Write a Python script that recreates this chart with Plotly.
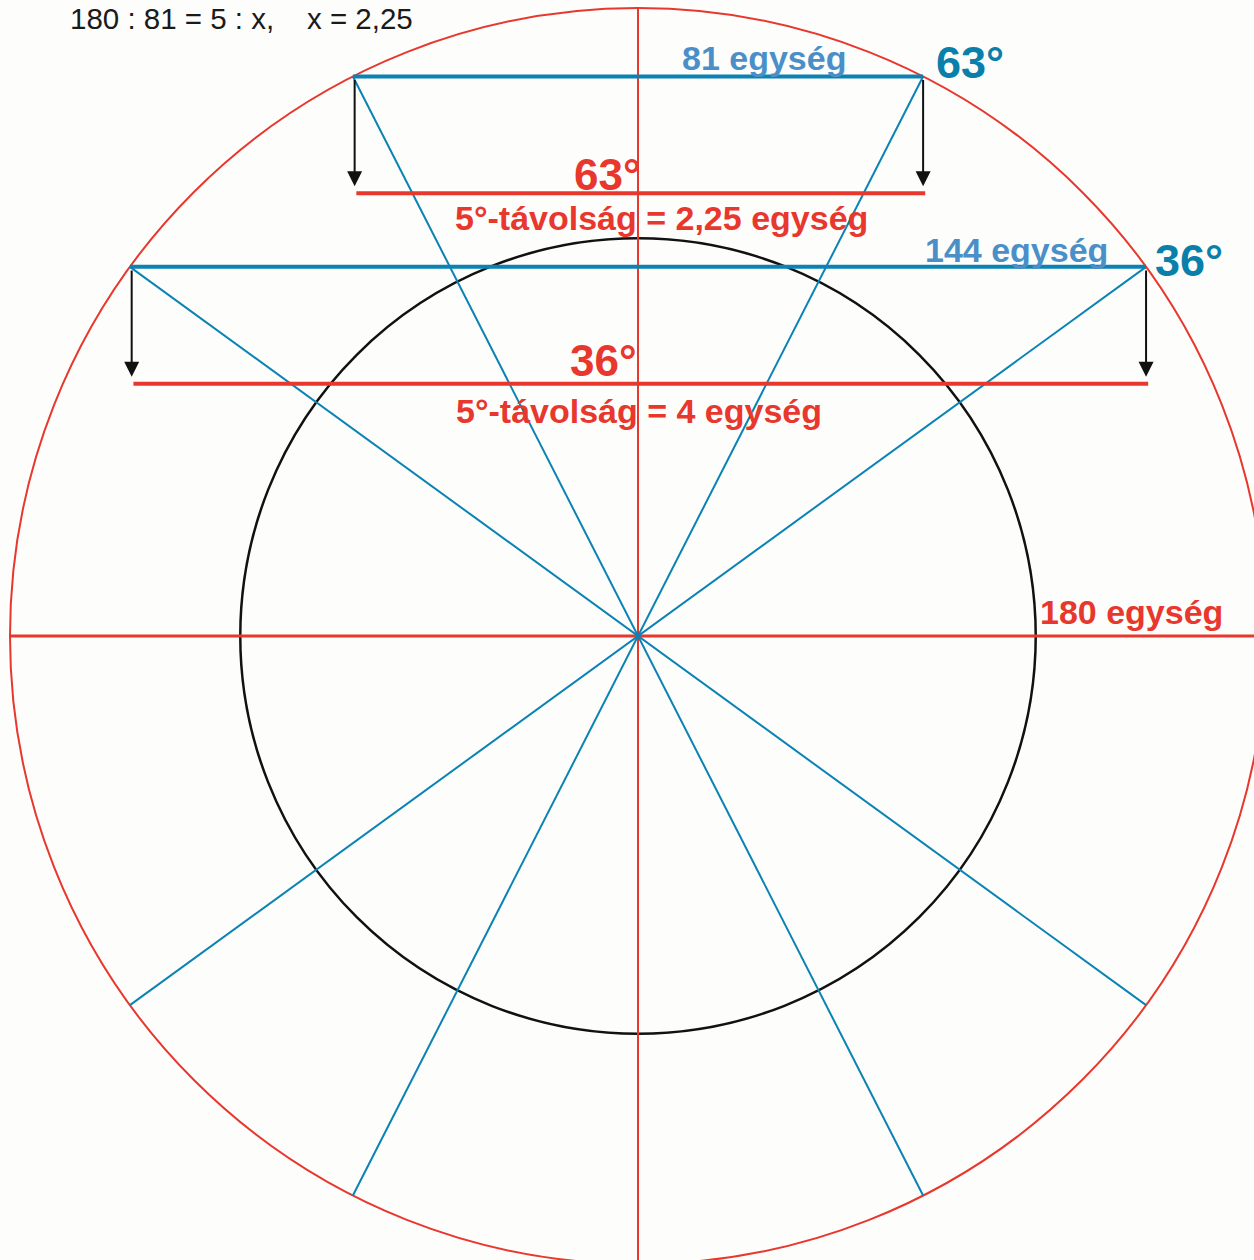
import numpy as np
import plotly.graph_objects as go

# ---- data ----
angles_deg = [63, 36]                     # chord angles
chord_labels = ["81 egység", "144 egység"]
angle_labels = ["63°", "36°"]
distance_labels = ["5°-távolság = 2,25 egység", "5°-távolság = 4 egység"]
outer_radius = 180
inner_radius = 114
drop = 33.5                               # distance of red ruler below chord
ratio_text = "180 : 81 = 5 : x,\u00a0\u00a0\u00a0\u00a0x = 2,25"
radius_label = "180 egység"

# ---- styling ----
RED = "#e8372c"
BLUE = "#0a83b4"
LBLUE = "#4a8fc7"
TEAL = "#0a7fa9"
BG = "#fdfdfc"
W, H = 1254, 1260
CX, CY = 638, 636          # pixel position of centre
S = 628 / outer_radius     # pixels per unit

def to_data(px, py):
    return (px - CX) / S, (CY - py) / S

R = outer_radius
fig = go.Figure()

# axes lines (red cross)
fig.add_trace(go.Scatter(x=[-R, R * 1.2], y=[0, 0], mode="lines",
                         line=dict(color=RED, width=3), hoverinfo="skip"))
fig.add_trace(go.Scatter(x=[0, 0], y=[-R * 1.2, R], mode="lines",
                         line=dict(color=RED, width=2), hoverinfo="skip"))

# diagonals through centre
for a in angles_deg:
    for ang in (a, 180 - a):
        t = np.deg2rad(ang)
        fig.add_trace(go.Scatter(x=[R * np.cos(t), -R * np.cos(t)],
                                 y=[R * np.sin(t), -R * np.sin(t)], mode="lines",
                                 line=dict(color=BLUE, width=2), hoverinfo="skip"))

annotations = []
for a, cl, al, dl in zip(angles_deg, chord_labels, angle_labels, distance_labels):
    t = np.deg2rad(a)
    hx = R * np.cos(t)
    y = R * np.sin(t)
    # chord
    fig.add_trace(go.Scatter(x=[-hx, hx], y=[y, y], mode="lines",
                             line=dict(color=BLUE, width=4), hoverinfo="skip"))
    # red ruler
    fig.add_trace(go.Scatter(x=[-hx + 1, hx + 0.6], y=[y - drop, y - drop], mode="lines",
                             line=dict(color=RED, width=4), hoverinfo="skip"))
    # arrows
    for sx in (-hx + 0.5, hx):
        annotations.append(dict(x=sx, y=y - drop + 2.0, ax=sx, ay=y - 0.6,
                                xref="x", yref="y", axref="x", ayref="y",
                                text="", showarrow=True, arrowhead=2, arrowsize=1.5,
                                arrowwidth=2, arrowcolor="#111111"))

# circles
shapes = [
    dict(type="circle", xref="x", yref="y", x0=-R, y0=-R, x1=R, y1=R,
         line=dict(color=RED, width=2), layer="below"),
    dict(type="circle", xref="x", yref="y", x0=-inner_radius, y0=-inner_radius,
         x1=inner_radius, y1=inner_radius, line=dict(color="#111111", width=2.5),
         layer="below"),
]

def label(text, px, py, size, color, bold=True, xanchor="center", yanchor="middle"):
    x, y = to_data(px, py)
    annotations.append(dict(x=x, y=y, xref="x", yref="y", text=f"<b>{text}</b>" if bold else text,
                            showarrow=False, xanchor=xanchor, yanchor=yanchor,
                            font=dict(family="Liberation Sans, Arial", size=size, color=color)))

label(ratio_text, 68, 0, 29.5, "#1a1a1a", bold=False, xanchor="left", yanchor="top")
label(chord_labels[0], 764, 58, 34, LBLUE)
label(angle_labels[0], 970, 62, 45, TEAL)
label(angle_labels[0], 607, 174, 44, RED)
label(distance_labels[0], 661, 218, 34, RED)
label(chord_labels[1], 1016, 250, 34, LBLUE)
label(angle_labels[1], 1189, 260, 45, TEAL)
label(angle_labels[1], 603, 360, 44, RED)
label(distance_labels[1], 639, 411, 34, RED)
label(radius_label, 1131, 612, 34, RED)

x0, y0 = to_data(0, H)
x1, y1 = to_data(W, 0)
fig.update_layout(
    width=W, height=H, margin=dict(l=0, r=0, t=0, b=0),
    paper_bgcolor=BG, plot_bgcolor=BG, showlegend=False,
    xaxis=dict(range=[x0, x1], visible=False, fixedrange=True),
    yaxis=dict(range=[y0, y1], visible=False, fixedrange=True),
    shapes=shapes, annotations=annotations,
)
fig.write_html("out.html", config={"displayModeBar": False},
               post_script="document.body.style.margin='0';document.body.style.overflow='hidden';")
